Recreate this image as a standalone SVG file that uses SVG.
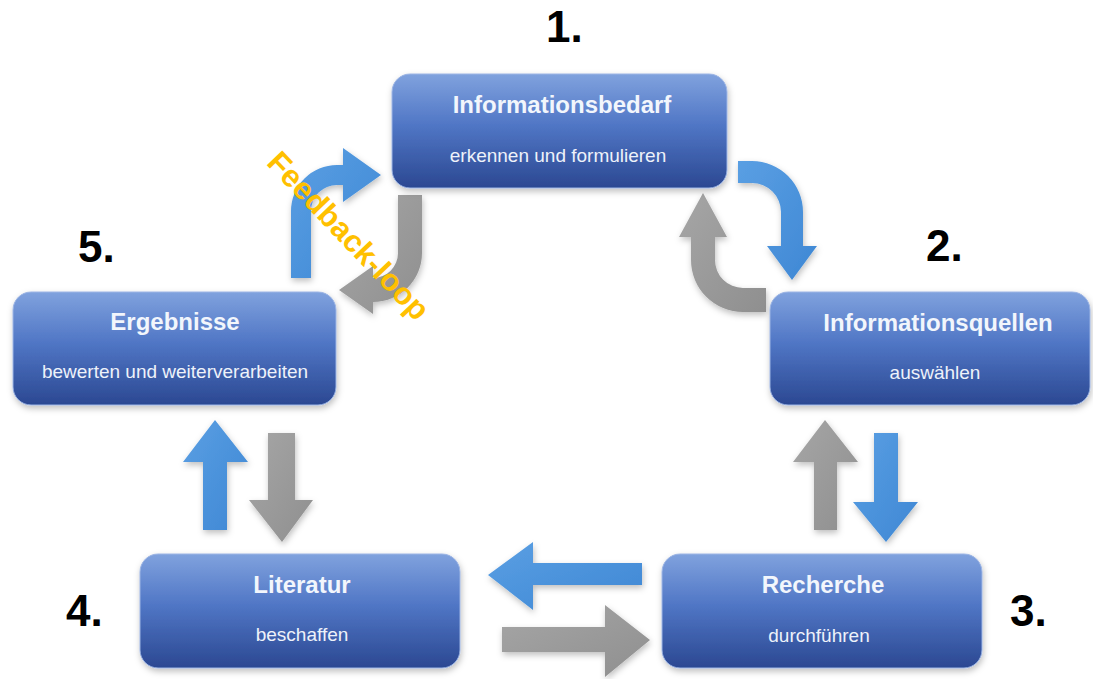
<svg xmlns="http://www.w3.org/2000/svg" width="1093" height="679" viewBox="0 0 1093 679">
  <defs>
    <linearGradient id="boxGrad" x1="0" y1="0" x2="0" y2="1">
      <stop offset="0" stop-color="#80A2DE"/>
      <stop offset="0.45" stop-color="#5076C5"/>
      <stop offset="1" stop-color="#2B4892"/>
    </linearGradient>
    <linearGradient id="blueGrad" x1="0" y1="0" x2="1" y2="1">
      <stop offset="0" stop-color="#5A9FE3"/>
      <stop offset="1" stop-color="#3E87D4"/>
    </linearGradient>
    <linearGradient id="grayGrad" x1="0" y1="0" x2="1" y2="1">
      <stop offset="0" stop-color="#A6A6A6"/>
      <stop offset="1" stop-color="#8F8F8F"/>
    </linearGradient>
    <filter id="shadow" x="-10%" y="-10%" width="130%" height="140%">
      <feDropShadow dx="1" dy="3" stdDeviation="3" flood-color="#000" flood-opacity="0.25"/>
    </filter>
  </defs>
  <style>
    .box { fill: url(#boxGrad); stroke: #9DB5E4; stroke-width: 1; filter: url(#shadow); }
    .title { font-family: "Liberation Sans", Arial, sans-serif; font-weight: bold; font-size: 24px; fill: #F2F6FC; text-anchor: middle; }
    .sub { font-family: "Liberation Sans", Arial, sans-serif; font-size: 19px; fill: #EEF2FA; text-anchor: middle; }
    .num { font-family: "Liberation Sans", Arial, sans-serif; font-weight: bold; font-size: 44px; fill: #000; }
    .blue { fill: url(#blueGrad); filter: url(#shadow); }
    .gray { fill: url(#grayGrad); filter: url(#shadow); }
    .fb { font-family: "Liberation Sans", Arial, sans-serif; font-weight: bold; font-size: 31px; fill: #FFC000; text-anchor: middle; }
  </style>
  <rect width="1093" height="679" fill="#FFFFFF"/>

  <g id="connectors">
    <!-- 1 -> 2 blue curved -->
    <path class="blue" d="M738,161 L752,161 A51,51 0 0 1 803,212 L803,246 L817,246 L792,280 L767,246 L781,246 L781,212 A29,29 0 0 0 752,183 L738,183 Z"/>
    <!-- 2 -> 1 gray curved -->
    <path class="gray" d="M766,288 L743,288 A28,28 0 0 1 715,260 L715,237 L727,237 L703,193 L679,237 L691,237 L691,260 A52,52 0 0 0 743,312 L766,312 Z"/>
    <!-- 5 -> 1 blue curved -->
    <path class="blue" d="M291,278 L291,211 A46,46 0 0 1 337,165 L343,165 L343,148 L381,175 L343,202 L343,185 L337,185 A26,26 0 0 0 311,211 L311,278 Z"/>
    <!-- 1 -> 5 gray curved (feedback) -->
    <path class="gray" d="M398,195 L422,195 L422,253 A49,49 0 0 1 373,302 L373,314 L339,290 L373,266 L373,278 A25,25 0 0 0 398,253 Z"/>
    <!-- 3 -> 2 gray up -->
    <path class="gray" d="M814,530 L814,462 L793,462 L825,420 L858,462 L837,462 L837,530 Z"/>
    <!-- 2 -> 3 blue down -->
    <path class="blue" d="M874,433 L898,433 L898,502 L918,502 L886,542 L853,502 L874,502 Z"/>
    <!-- 4 -> 5 blue up -->
    <path class="blue" d="M203,530 L203,462 L183,462 L215,420 L248,462 L227,462 L227,530 Z"/>
    <!-- 5 -> 4 gray down -->
    <path class="gray" d="M268,433 L295,433 L295,500 L313,500 L282,542 L249,500 L268,500 Z"/>
    <!-- 3 -> 4 blue left -->
    <path class="blue" d="M642,563 L533,563 L533,542 L488,575 L533,610 L533,585 L642,585 Z"/>
    <!-- 4 -> 3 gray right -->
    <path class="gray" d="M502,627 L605,627 L605,605 L650,640 L605,677 L605,652 L502,652 Z"/>
  </g>

  <g id="node1">
    <rect class="box" x="392" y="74" width="335" height="114" rx="18"/>
    <text class="title" x="562" y="113">Informationsbedarf</text>
    <text class="sub" x="558" y="162">erkennen und formulieren</text>
  </g>
  <g id="node2">
    <rect class="box" x="770" y="292" width="320" height="113" rx="18"/>
    <text class="title" x="938" y="331">Informationsquellen</text>
    <text class="sub" x="935" y="379">auswählen</text>
  </g>
  <g id="node3">
    <rect class="box" x="662" y="554" width="320" height="114" rx="18"/>
    <text class="title" x="823" y="593">Recherche</text>
    <text class="sub" x="819" y="642">durchführen</text>
  </g>
  <g id="node4">
    <rect class="box" x="140" y="554" width="320" height="114" rx="18"/>
    <text class="title" x="302" y="593">Literatur</text>
    <text class="sub" x="302" y="641">beschaffen</text>
  </g>
  <g id="node5">
    <rect class="box" x="13" y="292" width="323" height="113" rx="18"/>
    <text class="title" x="175" y="330">Ergebnisse</text>
    <text class="sub" x="175" y="378">bewerten und weiterverarbeiten</text>
  </g>

  <g id="labels">
    <text class="num" x="546" y="42">1.</text>
    <text class="num" x="926" y="261">2.</text>
    <text class="num" x="1010" y="626">3.</text>
    <text class="num" x="66" y="626">4.</text>
    <text class="num" x="78" y="262">5.</text>
    <text class="fb" x="341" y="243" transform="rotate(46.4 341 243)">Feedback-loop</text>
  </g>
</svg>
